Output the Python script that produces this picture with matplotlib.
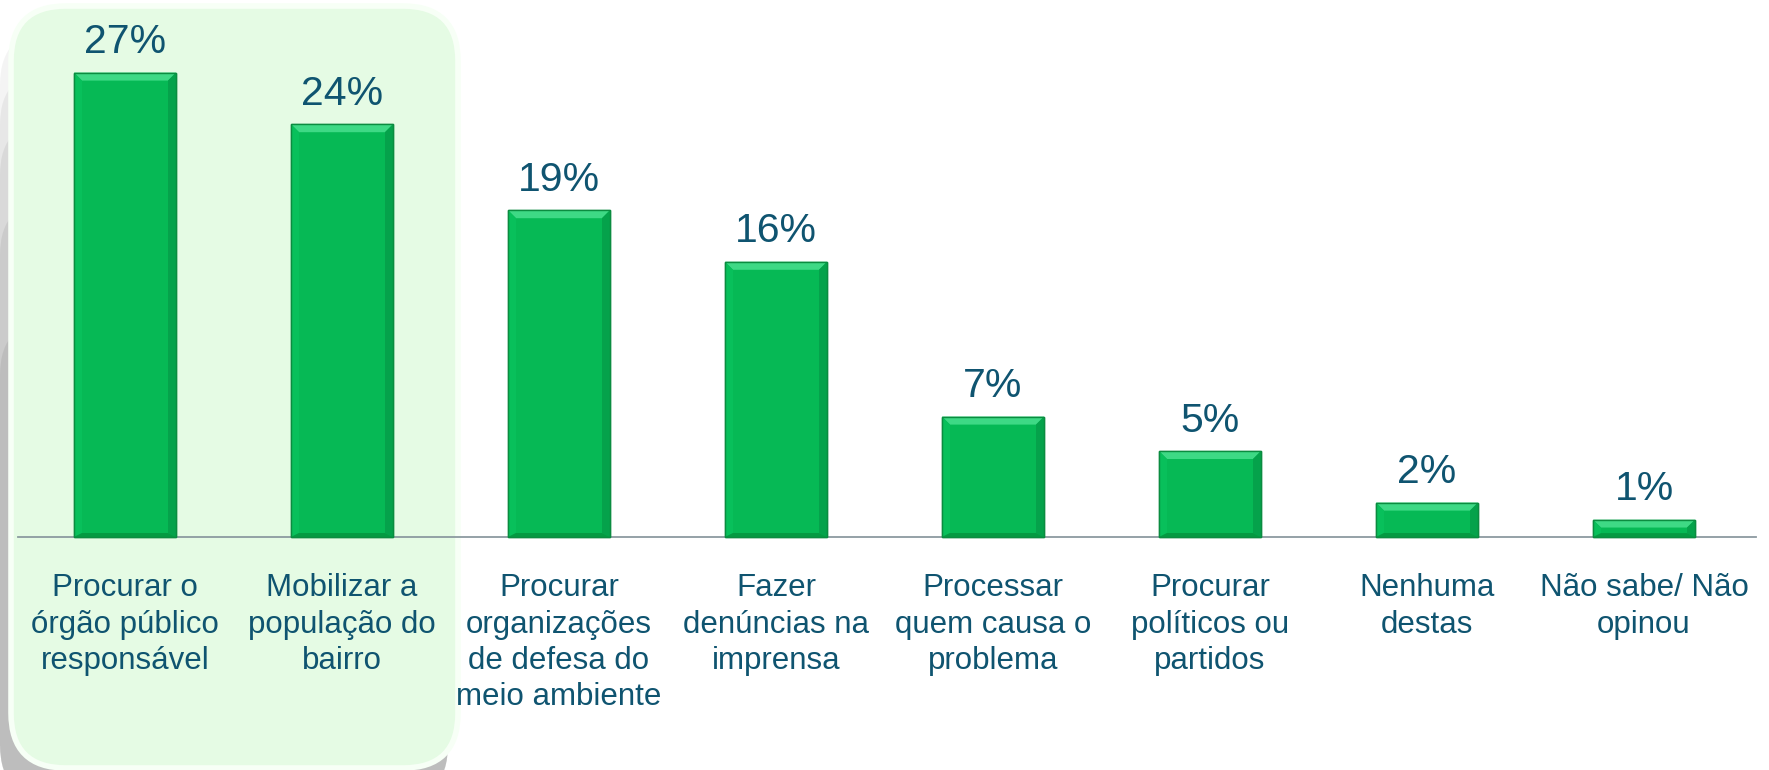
import matplotlib
matplotlib.use("Agg")
import matplotlib.pyplot as plt
from matplotlib.patches import FancyBboxPatch, Polygon
from matplotlib.transforms import IdentityTransform
import numpy as np

categories = [
    "Procurar o\nórgão público\nresponsável",
    "Mobilizar a\npopulação do\nbairro",
    "Procurar\norganizações\nde defesa do\nmeio ambiente",
    "Fazer\ndenúncias na\nimprensa",
    "Processar\nquem causa o\nproblema",
    "Procurar\npolíticos ou\npartidos",
    "Nenhuma\ndestas",
    "Não sabe/ Não\nopinou",
]
values = [27, 24, 19, 16, 7, 5, 2, 1]
value_labels = ["27%", "24%", "19%", "16%", "7%", "5%", "2%", "1%"]

W, H, DPI = 1769, 770, 100
fig = plt.figure(figsize=(W / DPI, H / DPI), dpi=DPI)
fig.patch.set_facecolor("white")

# ---- highlight box, in pixel coordinates (origin bottom-left) ----
idt = IdentityTransform()

def rbox(left, top, right, bottom, r=55, **kw):
    # top/bottom measured from the top of the image
    return FancyBboxPatch((left, H - bottom), right - left, bottom - top,
                          boxstyle=f"round,pad=0,rounding_size={r}",
                          transform=idt, **kw)

# shadow layers (fade toward the top)
for top, a in [(30, 0.08), (70, 0.10), (120, 0.12), (200, 0.14), (320, 0.16)]:
    fig.patches.append(rbox(0, top, 448, 800, facecolor="#7a7a7a",
                            edgecolor="none", alpha=a, zorder=0))

fig.patches.append(rbox(11, 6, 458, 768, facecolor="#e5fbe4",
                        edgecolor="#f7fff6", linewidth=4, zorder=1))

ax = fig.add_axes([0, 0, 1, 1])
ax.set_facecolor("none")
ax.set_zorder(2)
ax.axis("off")

spacing = 217.0
x0 = 125.0
ppu = 17.2
base_px = H - 537
ax.set_xlim(-x0 / spacing, (W - x0) / spacing)
ax.set_ylim(-base_px / ppu, (H - base_px) / ppu)

x = np.arange(len(values))
bw = 102 / spacing

# baseline
ax.plot([(18 - x0) / spacing, (1756 - x0) / spacing], [0, 0],
        color="#8c9aa0", lw=1.3, zorder=2)

bars = ax.bar(x, values, width=bw, color="#06b955", edgecolor="#0b8c40",
              linewidth=1.0, zorder=3)

bx = 8 / spacing
by = 8 / ppu
for b in bars:
    l = b.get_x(); r = l + b.get_width(); t = b.get_height()
    bh = min(by, t * 0.45)
    ax.add_patch(Polygon([[l, t], [r, t], [r - bx, t - bh], [l + bx, t - bh]],
                         closed=True, facecolor="#3ed985", edgecolor="none", zorder=4))
    ax.add_patch(Polygon([[l, t], [l + bx, t - bh], [l + bx, bh * 0.5], [l, 0]],
                         closed=True, facecolor="#08c05b", edgecolor="none", zorder=4))
    ax.add_patch(Polygon([[r, t], [r - bx, t - bh], [r - bx, bh * 0.5], [r, 0]],
                         closed=True, facecolor="#05a24b", edgecolor="none", zorder=4))
    ax.add_patch(Polygon([[l, 0], [r, 0], [r - bx, bh * 0.5], [l + bx, bh * 0.5]],
                         closed=True, facecolor="#049a42", edgecolor="none", zorder=4))
    ax.add_patch(plt.Rectangle((l, 0), r - l, t, facecolor="none",
                               edgecolor="#0b8c40", lw=1.0, zorder=5))

txt_color = "#0f5470"
font = "Liberation Sans"
for xi, v, lab in zip(x, values, value_labels):
    ax.annotate(lab, (xi, v), xytext=(0, 14), textcoords="offset points",
                ha="center", va="baseline", fontsize=29.5, color=txt_color,
                family=font, zorder=6)

for xi, cat in zip(x, categories):
    ax.annotate(cat, (xi, 0), xytext=(0, -26), textcoords="offset points",
                ha="center", va="top", fontsize=22.5, color=txt_color,
                family=font, linespacing=1.28, zorder=6)

fig.savefig("out.png", dpi=DPI)
